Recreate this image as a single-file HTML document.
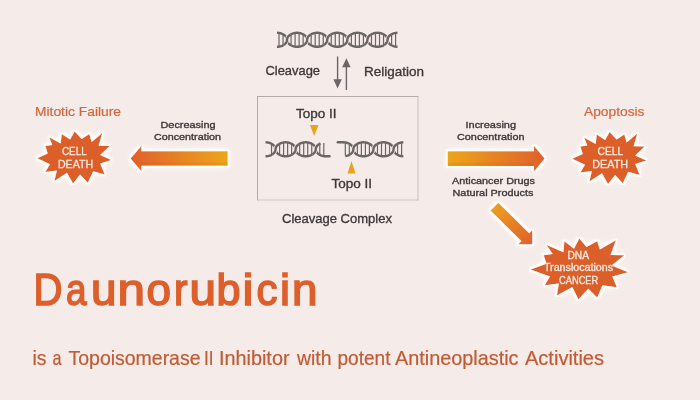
<!DOCTYPE html>
<html><head><meta charset="utf-8"><style>
html,body{margin:0;padding:0;background:#f5ebe9;}
svg{display:block;font-family:"Liberation Sans",sans-serif;will-change:transform;}
</style></head><body>
<svg width="700" height="400" viewBox="0 0 700 400">

<defs>
<linearGradient id="gL" x1="0" x2="1" y1="0" y2="0"><stop offset="0" stop-color="#e0602c"/><stop offset="1" stop-color="#eda51c"/></linearGradient>
<linearGradient id="gR" x1="0" x2="1" y1="0" y2="0"><stop offset="0" stop-color="#eda51c"/><stop offset="1" stop-color="#e0602c"/></linearGradient>
<linearGradient id="gD" x1="0" x2="1" y1="0" y2="1"><stop offset="0" stop-color="#eda51c"/><stop offset="1" stop-color="#e0602c"/></linearGradient>
<filter id="glow" x="-30%" y="-30%" width="160%" height="160%">
<feMorphology in="SourceAlpha" operator="dilate" radius="2.2" result="d"/>
<feGaussianBlur in="d" stdDeviation="0.7" result="b"/>
<feGaussianBlur in="SourceAlpha" stdDeviation="3.5" result="b2"/>
<feComponentTransfer in="b2" result="b3"><feFuncA type="linear" slope="1.6"/></feComponentTransfer>
<feFlood flood-color="#fffcf6"/>
<feComposite in2="b" operator="in" result="w"/>
<feFlood flood-color="#ffffff"/>
<feComposite in2="b3" operator="in" result="w2"/>
<feMerge><feMergeNode in="w2"/><feMergeNode in="w"/><feMergeNode in="SourceGraphic"/></feMerge>
</filter>
</defs>
<rect width="700" height="400" fill="#f5ebe9"/>
<path d="M277.00,32.80 L277.50,32.81 L278.00,32.84 L278.50,32.89 L279.00,32.95 L279.50,33.04 L280.00,33.15 L280.50,33.28 L281.00,33.43 L281.50,33.60 L282.00,33.80 L282.50,34.02 L283.00,34.27 L283.50,34.55 L284.00,34.87 L284.50,35.23 L285.00,35.64 L285.50,36.12 L286.00,36.70 L286.50,37.48 L287.00,39.01 L287.50,41.92 L288.00,42.76 L288.50,43.38 L289.00,43.87 L289.50,44.29 L290.00,44.66 L290.50,44.99 L291.00,45.27 L291.50,45.53 L292.00,45.76 L292.50,45.96 L293.00,46.14 L293.50,46.29 L294.00,46.43 L294.50,46.54 L295.00,46.63 L295.50,46.70 L296.00,46.75 L296.50,46.79 L297.00,46.80 L297.50,46.79 L298.00,46.77 L298.50,46.72 L299.00,46.66 L299.50,46.58 L300.00,46.47 L300.50,46.35 L301.00,46.20 L301.50,46.03 L302.00,45.84 L302.50,45.62 L303.00,45.38 L303.50,45.11 L304.00,44.80 L304.50,44.45 L305.00,44.05 L305.50,43.59 L306.00,43.03 L306.50,42.30 L307.00,41.09 L307.50,37.91 L308.00,36.98 L308.50,36.34 L309.00,35.82 L309.50,35.38 L310.00,35.01 L310.50,34.68 L311.00,34.38 L311.50,34.12 L312.00,33.89 L312.50,33.68 L313.00,33.50 L313.50,33.34 L314.00,33.20 L314.50,33.08 L315.00,32.99 L315.50,32.91 L316.00,32.86 L316.50,32.82 L317.00,32.80 L317.50,32.80 L318.00,32.82 L318.50,32.87 L319.00,32.93 L319.50,33.01 L320.00,33.10 L320.50,33.23 L321.00,33.37 L321.50,33.53 L322.00,33.72 L322.50,33.93 L323.00,34.17 L323.50,34.44 L324.00,34.74 L324.50,35.08 L325.00,35.47 L325.50,35.92 L326.00,36.45 L326.50,37.13 L327.00,38.17 L327.50,41.43 L328.00,42.47 L328.50,43.15 L329.00,43.68 L329.50,44.13 L330.00,44.52 L330.50,44.86 L331.00,45.16 L331.50,45.43 L332.00,45.67 L332.50,45.88 L333.00,46.07 L333.50,46.23 L334.00,46.37 L334.50,46.50 L335.00,46.59 L335.50,46.67 L336.00,46.73 L336.50,46.78 L337.00,46.80 L337.50,46.80 L338.00,46.78 L338.50,46.74 L339.00,46.69 L339.50,46.61 L340.00,46.52 L340.50,46.40 L341.00,46.26 L341.50,46.10 L342.00,45.92 L342.50,45.71 L343.00,45.48 L343.50,45.22 L344.00,44.92 L344.50,44.59 L345.00,44.22 L345.50,43.78 L346.00,43.26 L346.50,42.62 L347.00,41.69 L347.50,38.51 L348.00,37.30 L348.50,36.57 L349.00,36.01 L349.50,35.55 L350.00,35.15 L350.50,34.80 L351.00,34.49 L351.50,34.22 L352.00,33.98 L352.50,33.76 L353.00,33.57 L353.50,33.40 L354.00,33.25 L354.50,33.13 L355.00,33.02 L355.50,32.94 L356.00,32.88 L356.50,32.83 L357.00,32.81 L357.50,32.80 L358.00,32.81 L358.50,32.85 L359.00,32.90 L359.50,32.97 L360.00,33.06 L360.50,33.17 L361.00,33.31 L361.50,33.46 L362.00,33.64 L362.50,33.84 L363.00,34.07 L363.50,34.33 L364.00,34.61 L364.50,34.94 L365.00,35.31 L365.50,35.73 L366.00,36.22 L366.50,36.84 L367.00,37.68 L367.50,40.59 L368.00,42.12 L368.50,42.90 L369.00,43.48 L369.50,43.96 L370.00,44.37 L370.50,44.73 L371.00,45.05 L371.50,45.33 L372.00,45.58 L372.50,45.80 L373.00,46.00 L373.50,46.17 L374.00,46.32 L374.50,46.45 L375.00,46.56 L375.50,46.65 L376.00,46.71 L376.50,46.76 L377.00,46.79 L377.50,46.80 L378.00,46.79 L378.50,46.76 L379.00,46.71 L379.50,46.65 L380.00,46.56 L380.50,46.45 L381.00,46.32 L381.50,46.17 L382.00,46.00 L382.50,45.80 L383.00,45.58 L383.50,45.33 L384.00,45.05 L384.50,44.73 L385.00,44.37 L385.50,43.96 L386.00,43.48 L386.50,42.90 L387.00,42.12 L387.50,40.59 L388.00,37.68 L388.50,36.84 L389.00,36.22 L389.50,35.73 L390.00,35.31 L390.50,34.94 L391.00,34.61 L391.50,34.33 L392.00,34.07 L392.50,33.84 L393.00,33.64 L393.50,33.46 L394.00,33.31 L394.50,33.17 L395.00,33.06 L395.50,32.97 L396.00,32.90 L396.50,32.85 L397.00,32.81 L397.50,32.80" fill="none" stroke="#6a6665" stroke-width="2.4"/>
<path d="M277.00,46.80 L277.50,46.79 L278.00,46.76 L278.50,46.71 L279.00,46.65 L279.50,46.56 L280.00,46.45 L280.50,46.32 L281.00,46.17 L281.50,46.00 L282.00,45.80 L282.50,45.58 L283.00,45.33 L283.50,45.05 L284.00,44.73 L284.50,44.37 L285.00,43.96 L285.50,43.48 L286.00,42.90 L286.50,42.12 L287.00,40.59 L287.50,37.68 L288.00,36.84 L288.50,36.22 L289.00,35.73 L289.50,35.31 L290.00,34.94 L290.50,34.61 L291.00,34.33 L291.50,34.07 L292.00,33.84 L292.50,33.64 L293.00,33.46 L293.50,33.31 L294.00,33.17 L294.50,33.06 L295.00,32.97 L295.50,32.90 L296.00,32.85 L296.50,32.81 L297.00,32.80 L297.50,32.81 L298.00,32.83 L298.50,32.88 L299.00,32.94 L299.50,33.02 L300.00,33.13 L300.50,33.25 L301.00,33.40 L301.50,33.57 L302.00,33.76 L302.50,33.98 L303.00,34.22 L303.50,34.49 L304.00,34.80 L304.50,35.15 L305.00,35.55 L305.50,36.01 L306.00,36.57 L306.50,37.30 L307.00,38.51 L307.50,41.69 L308.00,42.62 L308.50,43.26 L309.00,43.78 L309.50,44.22 L310.00,44.59 L310.50,44.92 L311.00,45.22 L311.50,45.48 L312.00,45.71 L312.50,45.92 L313.00,46.10 L313.50,46.26 L314.00,46.40 L314.50,46.52 L315.00,46.61 L315.50,46.69 L316.00,46.74 L316.50,46.78 L317.00,46.80 L317.50,46.80 L318.00,46.78 L318.50,46.73 L319.00,46.67 L319.50,46.59 L320.00,46.50 L320.50,46.37 L321.00,46.23 L321.50,46.07 L322.00,45.88 L322.50,45.67 L323.00,45.43 L323.50,45.16 L324.00,44.86 L324.50,44.52 L325.00,44.13 L325.50,43.68 L326.00,43.15 L326.50,42.47 L327.00,41.43 L327.50,38.17 L328.00,37.13 L328.50,36.45 L329.00,35.92 L329.50,35.47 L330.00,35.08 L330.50,34.74 L331.00,34.44 L331.50,34.17 L332.00,33.93 L332.50,33.72 L333.00,33.53 L333.50,33.37 L334.00,33.23 L334.50,33.10 L335.00,33.01 L335.50,32.93 L336.00,32.87 L336.50,32.82 L337.00,32.80 L337.50,32.80 L338.00,32.82 L338.50,32.86 L339.00,32.91 L339.50,32.99 L340.00,33.08 L340.50,33.20 L341.00,33.34 L341.50,33.50 L342.00,33.68 L342.50,33.89 L343.00,34.12 L343.50,34.38 L344.00,34.68 L344.50,35.01 L345.00,35.38 L345.50,35.82 L346.00,36.34 L346.50,36.98 L347.00,37.91 L347.50,41.09 L348.00,42.30 L348.50,43.03 L349.00,43.59 L349.50,44.05 L350.00,44.45 L350.50,44.80 L351.00,45.11 L351.50,45.38 L352.00,45.62 L352.50,45.84 L353.00,46.03 L353.50,46.20 L354.00,46.35 L354.50,46.47 L355.00,46.58 L355.50,46.66 L356.00,46.72 L356.50,46.77 L357.00,46.79 L357.50,46.80 L358.00,46.79 L358.50,46.75 L359.00,46.70 L359.50,46.63 L360.00,46.54 L360.50,46.43 L361.00,46.29 L361.50,46.14 L362.00,45.96 L362.50,45.76 L363.00,45.53 L363.50,45.27 L364.00,44.99 L364.50,44.66 L365.00,44.29 L365.50,43.87 L366.00,43.38 L366.50,42.76 L367.00,41.92 L367.50,39.01 L368.00,37.48 L368.50,36.70 L369.00,36.12 L369.50,35.64 L370.00,35.23 L370.50,34.87 L371.00,34.55 L371.50,34.27 L372.00,34.02 L372.50,33.80 L373.00,33.60 L373.50,33.43 L374.00,33.28 L374.50,33.15 L375.00,33.04 L375.50,32.95 L376.00,32.89 L376.50,32.84 L377.00,32.81 L377.50,32.80 L378.00,32.81 L378.50,32.84 L379.00,32.89 L379.50,32.95 L380.00,33.04 L380.50,33.15 L381.00,33.28 L381.50,33.43 L382.00,33.60 L382.50,33.80 L383.00,34.02 L383.50,34.27 L384.00,34.55 L384.50,34.87 L385.00,35.23 L385.50,35.64 L386.00,36.12 L386.50,36.70 L387.00,37.48 L387.50,39.01 L388.00,41.92 L388.50,42.76 L389.00,43.38 L389.50,43.87 L390.00,44.29 L390.50,44.66 L391.00,44.99 L391.50,45.27 L392.00,45.53 L392.50,45.76 L393.00,45.96 L393.50,46.14 L394.00,46.29 L394.50,46.43 L395.00,46.54 L395.50,46.63 L396.00,46.70 L396.50,46.75 L397.00,46.79 L397.50,46.80" fill="none" stroke="#6a6665" stroke-width="2.4"/>
<path d="M283.55,45.02 L283.80,44.86 L284.05,44.70 L284.30,44.52 L284.55,44.33 L284.80,44.13 L285.05,43.92 L285.30,43.68 L285.55,43.43 L285.80,43.15 L286.05,42.83 L286.30,42.47 L286.55,42.02 L286.80,41.43 L287.05,39.80 L287.30,38.17 L287.55,37.58 L287.80,37.13 L288.05,36.77 L288.30,36.45 L288.55,36.17 L288.80,35.92 L289.05,35.68 L289.30,35.47 L289.55,35.27 L289.80,35.08 L290.05,34.90 L290.30,34.74 L290.55,34.58" fill="none" stroke="#f5ebe9" stroke-width="3.8"/>
<path d="M283.55,45.02 L283.80,44.86 L284.05,44.70 L284.30,44.52 L284.55,44.33 L284.80,44.13 L285.05,43.92 L285.30,43.68 L285.55,43.43 L285.80,43.15 L286.05,42.83 L286.30,42.47 L286.55,42.02 L286.80,41.43 L287.05,39.80 L287.30,38.17 L287.55,37.58 L287.80,37.13 L288.05,36.77 L288.30,36.45 L288.55,36.17 L288.80,35.92 L289.05,35.68 L289.30,35.47 L289.55,35.27 L289.80,35.08 L290.05,34.90 L290.30,34.74 L290.55,34.58" fill="none" stroke="#6a6665" stroke-width="2.4"/>
<path d="M303.65,45.02 L303.90,44.86 L304.15,44.70 L304.40,44.52 L304.65,44.33 L304.90,44.13 L305.15,43.92 L305.40,43.68 L305.65,43.43 L305.90,43.15 L306.15,42.83 L306.40,42.47 L306.65,42.02 L306.90,41.43 L307.15,39.80 L307.40,38.17 L307.65,37.58 L307.90,37.13 L308.15,36.77 L308.40,36.45 L308.65,36.17 L308.90,35.92 L309.15,35.68 L309.40,35.47 L309.65,35.27 L309.90,35.08 L310.15,34.90 L310.40,34.74 L310.65,34.58" fill="none" stroke="#f5ebe9" stroke-width="3.8"/>
<path d="M303.65,45.02 L303.90,44.86 L304.15,44.70 L304.40,44.52 L304.65,44.33 L304.90,44.13 L305.15,43.92 L305.40,43.68 L305.65,43.43 L305.90,43.15 L306.15,42.83 L306.40,42.47 L306.65,42.02 L306.90,41.43 L307.15,39.80 L307.40,38.17 L307.65,37.58 L307.90,37.13 L308.15,36.77 L308.40,36.45 L308.65,36.17 L308.90,35.92 L309.15,35.68 L309.40,35.47 L309.65,35.27 L309.90,35.08 L310.15,34.90 L310.40,34.74 L310.65,34.58" fill="none" stroke="#6a6665" stroke-width="2.4"/>
<path d="M323.75,45.02 L324.00,44.86 L324.25,44.70 L324.50,44.52 L324.75,44.33 L325.00,44.13 L325.25,43.92 L325.50,43.68 L325.75,43.43 L326.00,43.15 L326.25,42.83 L326.50,42.47 L326.75,42.02 L327.00,41.43 L327.25,39.80 L327.50,38.17 L327.75,37.58 L328.00,37.13 L328.25,36.77 L328.50,36.45 L328.75,36.17 L329.00,35.92 L329.25,35.68 L329.50,35.47 L329.75,35.27 L330.00,35.08 L330.25,34.90 L330.50,34.74 L330.75,34.58" fill="none" stroke="#f5ebe9" stroke-width="3.8"/>
<path d="M323.75,45.02 L324.00,44.86 L324.25,44.70 L324.50,44.52 L324.75,44.33 L325.00,44.13 L325.25,43.92 L325.50,43.68 L325.75,43.43 L326.00,43.15 L326.25,42.83 L326.50,42.47 L326.75,42.02 L327.00,41.43 L327.25,39.80 L327.50,38.17 L327.75,37.58 L328.00,37.13 L328.25,36.77 L328.50,36.45 L328.75,36.17 L329.00,35.92 L329.25,35.68 L329.50,35.47 L329.75,35.27 L330.00,35.08 L330.25,34.90 L330.50,34.74 L330.75,34.58" fill="none" stroke="#6a6665" stroke-width="2.4"/>
<path d="M343.85,45.02 L344.10,44.86 L344.35,44.70 L344.60,44.52 L344.85,44.33 L345.10,44.13 L345.35,43.92 L345.60,43.68 L345.85,43.43 L346.10,43.15 L346.35,42.83 L346.60,42.47 L346.85,42.02 L347.10,41.43 L347.35,39.80 L347.60,38.17 L347.85,37.58 L348.10,37.13 L348.35,36.77 L348.60,36.45 L348.85,36.17 L349.10,35.92 L349.35,35.68 L349.60,35.47 L349.85,35.27 L350.10,35.08 L350.35,34.90 L350.60,34.74 L350.85,34.58" fill="none" stroke="#f5ebe9" stroke-width="3.8"/>
<path d="M343.85,45.02 L344.10,44.86 L344.35,44.70 L344.60,44.52 L344.85,44.33 L345.10,44.13 L345.35,43.92 L345.60,43.68 L345.85,43.43 L346.10,43.15 L346.35,42.83 L346.60,42.47 L346.85,42.02 L347.10,41.43 L347.35,39.80 L347.60,38.17 L347.85,37.58 L348.10,37.13 L348.35,36.77 L348.60,36.45 L348.85,36.17 L349.10,35.92 L349.35,35.68 L349.60,35.47 L349.85,35.27 L350.10,35.08 L350.35,34.90 L350.60,34.74 L350.85,34.58" fill="none" stroke="#6a6665" stroke-width="2.4"/>
<path d="M363.95,45.02 L364.20,44.86 L364.45,44.70 L364.70,44.52 L364.95,44.33 L365.20,44.13 L365.45,43.92 L365.70,43.68 L365.95,43.43 L366.20,43.15 L366.45,42.83 L366.70,42.47 L366.95,42.02 L367.20,41.43 L367.45,39.80 L367.70,38.17 L367.95,37.58 L368.20,37.13 L368.45,36.77 L368.70,36.45 L368.95,36.17 L369.20,35.92 L369.45,35.68 L369.70,35.47 L369.95,35.27 L370.20,35.08 L370.45,34.90 L370.70,34.74 L370.95,34.58" fill="none" stroke="#f5ebe9" stroke-width="3.8"/>
<path d="M363.95,45.02 L364.20,44.86 L364.45,44.70 L364.70,44.52 L364.95,44.33 L365.20,44.13 L365.45,43.92 L365.70,43.68 L365.95,43.43 L366.20,43.15 L366.45,42.83 L366.70,42.47 L366.95,42.02 L367.20,41.43 L367.45,39.80 L367.70,38.17 L367.95,37.58 L368.20,37.13 L368.45,36.77 L368.70,36.45 L368.95,36.17 L369.20,35.92 L369.45,35.68 L369.70,35.47 L369.95,35.27 L370.20,35.08 L370.45,34.90 L370.70,34.74 L370.95,34.58" fill="none" stroke="#6a6665" stroke-width="2.4"/>
<path d="M384.05,45.02 L384.30,44.86 L384.55,44.70 L384.80,44.52 L385.05,44.33 L385.30,44.13 L385.55,43.92 L385.80,43.68 L386.05,43.43 L386.30,43.15 L386.55,42.83 L386.80,42.47 L387.05,42.02 L387.30,41.43 L387.55,39.80 L387.80,38.17 L388.05,37.58 L388.30,37.13 L388.55,36.77 L388.80,36.45 L389.05,36.17 L389.30,35.92 L389.55,35.68 L389.80,35.47 L390.05,35.27 L390.30,35.08 L390.55,34.90 L390.80,34.74 L391.05,34.58" fill="none" stroke="#f5ebe9" stroke-width="3.8"/>
<path d="M384.05,45.02 L384.30,44.86 L384.55,44.70 L384.80,44.52 L385.05,44.33 L385.30,44.13 L385.55,43.92 L385.80,43.68 L386.05,43.43 L386.30,43.15 L386.55,42.83 L386.80,42.47 L387.05,42.02 L387.30,41.43 L387.55,39.80 L387.80,38.17 L388.05,37.58 L388.30,37.13 L388.55,36.77 L388.80,36.45 L389.05,36.17 L389.30,35.92 L389.55,35.68 L389.80,35.47 L390.05,35.27 L390.30,35.08 L390.55,34.90 L390.80,34.74 L391.05,34.58" fill="none" stroke="#6a6665" stroke-width="2.4"/>
<line x1="279.01" y1="33.56" x2="279.01" y2="46.04" stroke="#6a6665" stroke-width="1.2"/>
<line x1="283.03" y1="34.89" x2="283.03" y2="44.71" stroke="#6a6665" stroke-width="1.2"/>
<line x1="291.07" y1="34.89" x2="291.07" y2="44.71" stroke="#6a6665" stroke-width="1.2"/>
<line x1="295.09" y1="33.56" x2="295.09" y2="46.04" stroke="#6a6665" stroke-width="1.2"/>
<line x1="299.11" y1="33.56" x2="299.11" y2="46.04" stroke="#6a6665" stroke-width="1.2"/>
<line x1="303.13" y1="34.89" x2="303.13" y2="44.71" stroke="#6a6665" stroke-width="1.2"/>
<line x1="311.17" y1="34.89" x2="311.17" y2="44.71" stroke="#6a6665" stroke-width="1.2"/>
<line x1="315.19" y1="33.56" x2="315.19" y2="46.04" stroke="#6a6665" stroke-width="1.2"/>
<line x1="319.21" y1="33.56" x2="319.21" y2="46.04" stroke="#6a6665" stroke-width="1.2"/>
<line x1="323.23" y1="34.89" x2="323.23" y2="44.71" stroke="#6a6665" stroke-width="1.2"/>
<line x1="331.27" y1="34.89" x2="331.27" y2="44.71" stroke="#6a6665" stroke-width="1.2"/>
<line x1="335.29" y1="33.56" x2="335.29" y2="46.04" stroke="#6a6665" stroke-width="1.2"/>
<line x1="339.31" y1="33.56" x2="339.31" y2="46.04" stroke="#6a6665" stroke-width="1.2"/>
<line x1="343.33" y1="34.89" x2="343.33" y2="44.71" stroke="#6a6665" stroke-width="1.2"/>
<line x1="351.37" y1="34.89" x2="351.37" y2="44.71" stroke="#6a6665" stroke-width="1.2"/>
<line x1="355.39" y1="33.56" x2="355.39" y2="46.04" stroke="#6a6665" stroke-width="1.2"/>
<line x1="359.41" y1="33.56" x2="359.41" y2="46.04" stroke="#6a6665" stroke-width="1.2"/>
<line x1="363.43" y1="34.89" x2="363.43" y2="44.71" stroke="#6a6665" stroke-width="1.2"/>
<line x1="371.47" y1="34.89" x2="371.47" y2="44.71" stroke="#6a6665" stroke-width="1.2"/>
<line x1="375.49" y1="33.56" x2="375.49" y2="46.04" stroke="#6a6665" stroke-width="1.2"/>
<line x1="379.51" y1="33.56" x2="379.51" y2="46.04" stroke="#6a6665" stroke-width="1.2"/>
<line x1="383.53" y1="34.89" x2="383.53" y2="44.71" stroke="#6a6665" stroke-width="1.2"/>
<line x1="391.57" y1="34.89" x2="391.57" y2="44.71" stroke="#6a6665" stroke-width="1.2"/>
<line x1="395.59" y1="33.56" x2="395.59" y2="46.04" stroke="#6a6665" stroke-width="1.2"/>
<line x1="337.6" y1="56.5" x2="337.6" y2="80" stroke="#6a6665" stroke-width="1.4"/>
<polygon points="333.4,79.3 341.8,79.3 337.6,88.4" fill="#6a6665"/>
<line x1="346.4" y1="66" x2="346.4" y2="90" stroke="#6a6665" stroke-width="1.4"/>
<polygon points="342.2,67.2 350.6,67.2 346.4,58.2" fill="#6a6665"/>
<line x1="257" y1="96.5" x2="418.5" y2="96.5" stroke="#b4aaa9" stroke-width="1"/>
<line x1="257.5" y1="96" x2="257.5" y2="200.5" stroke="#b4aaa9" stroke-width="1"/>
<line x1="418" y1="97" x2="418" y2="200.5" stroke="#d0c6c4" stroke-width="1.2"/>
<line x1="258" y1="200" x2="418.5" y2="200" stroke="#d0c6c4" stroke-width="1.2"/>
<path d="M265.50,142.30 L266.00,142.31 L266.50,142.34 L267.00,142.39 L267.50,142.45 L268.00,142.54 L268.50,142.65 L269.00,142.78 L269.50,142.93 L270.00,143.10 L270.50,143.30 L271.00,143.52 L271.50,143.77 L272.00,144.05 L272.50,144.37 L273.00,144.73 L273.50,145.14 L274.00,145.62 L274.50,146.20 L275.00,146.98 L275.50,148.51 L276.00,151.42 L276.50,152.26 L277.00,152.88 L277.50,153.37 L278.00,153.79 L278.50,154.16 L279.00,154.49 L279.50,154.77 L280.00,155.03 L280.50,155.26 L281.00,155.46 L281.50,155.64 L282.00,155.79 L282.50,155.93 L283.00,156.04 L283.50,156.13 L284.00,156.20 L284.50,156.25 L285.00,156.29 L285.50,156.30 L286.00,156.29 L286.50,156.27 L287.00,156.22 L287.50,156.16 L288.00,156.08 L288.50,155.97 L289.00,155.85 L289.50,155.70 L290.00,155.53 L290.50,155.34 L291.00,155.12 L291.50,154.88 L292.00,154.61 L292.50,154.30 L293.00,153.95 L293.50,153.55 L294.00,153.09 L294.50,152.53 L295.00,151.80 L295.50,150.59 L296.00,147.41 L296.50,146.48 L297.00,145.84 L297.50,145.32 L298.00,144.88 L298.50,144.51 L299.00,144.18 L299.50,143.88 L300.00,143.62 L300.50,143.39 L301.00,143.18 L301.50,143.00 L302.00,142.84 L302.50,142.70 L303.00,142.58 L303.50,142.49 L304.00,142.41 L304.50,142.36 L305.00,142.32 L305.50,142.30 L306.00,142.30 L306.50,142.32 L307.00,142.37 L307.50,142.43 L308.00,142.51 L308.50,142.60 L309.00,142.73 L309.50,142.87 L310.00,143.03 L310.50,143.22 L311.00,143.43 L311.50,143.67 L312.00,143.94 L312.50,144.24 L313.00,144.58 L313.50,144.97 L314.00,145.42 L314.50,145.95 L315.00,146.63 L315.50,147.67 L316.00,150.93 L316.50,151.97 L317.00,152.65 L317.50,153.18 L318.00,153.63 L318.50,154.02 L319.00,154.36 L319.50,154.66 L320.00,154.93 L320.50,155.17 L321.00,155.38 L321.50,155.57 L322.00,155.73 L322.50,155.87 L323.00,156.00 L323.50,156.09 L324.00,156.17 L324.50,156.23 L325.00,156.28 L325.50,156.30" fill="none" stroke="#6a6665" stroke-width="2.4"/>
<path d="M265.50,156.30 L266.00,156.29 L266.50,156.26 L267.00,156.21 L267.50,156.15 L268.00,156.06 L268.50,155.95 L269.00,155.82 L269.50,155.67 L270.00,155.50 L270.50,155.30 L271.00,155.08 L271.50,154.83 L272.00,154.55 L272.50,154.23 L273.00,153.87 L273.50,153.46 L274.00,152.98 L274.50,152.40 L275.00,151.62 L275.50,150.09 L276.00,147.18 L276.50,146.34 L277.00,145.72 L277.50,145.23 L278.00,144.81 L278.50,144.44 L279.00,144.11 L279.50,143.83 L280.00,143.57 L280.50,143.34 L281.00,143.14 L281.50,142.96 L282.00,142.81 L282.50,142.67 L283.00,142.56 L283.50,142.47 L284.00,142.40 L284.50,142.35 L285.00,142.31 L285.50,142.30 L286.00,142.31 L286.50,142.33 L287.00,142.38 L287.50,142.44 L288.00,142.52 L288.50,142.63 L289.00,142.75 L289.50,142.90 L290.00,143.07 L290.50,143.26 L291.00,143.48 L291.50,143.72 L292.00,143.99 L292.50,144.30 L293.00,144.65 L293.50,145.05 L294.00,145.51 L294.50,146.07 L295.00,146.80 L295.50,148.01 L296.00,151.19 L296.50,152.12 L297.00,152.76 L297.50,153.28 L298.00,153.72 L298.50,154.09 L299.00,154.42 L299.50,154.72 L300.00,154.98 L300.50,155.21 L301.00,155.42 L301.50,155.60 L302.00,155.76 L302.50,155.90 L303.00,156.02 L303.50,156.11 L304.00,156.19 L304.50,156.24 L305.00,156.28 L305.50,156.30 L306.00,156.30 L306.50,156.28 L307.00,156.23 L307.50,156.17 L308.00,156.09 L308.50,156.00 L309.00,155.87 L309.50,155.73 L310.00,155.57 L310.50,155.38 L311.00,155.17 L311.50,154.93 L312.00,154.66 L312.50,154.36 L313.00,154.02 L313.50,153.63 L314.00,153.18 L314.50,152.65 L315.00,151.97 L315.50,150.93 L316.00,147.67 L316.50,146.63 L317.00,145.95 L317.50,145.42 L318.00,144.97 L318.50,144.58 L319.00,144.24 L319.50,143.94 L320.00,143.67 L320.50,143.43" fill="none" stroke="#6a6665" stroke-width="2.4"/>
<path d="M272.05,154.52 L272.30,154.36 L272.55,154.20 L272.80,154.02 L273.05,153.83 L273.30,153.63 L273.55,153.42 L273.80,153.18 L274.05,152.93 L274.30,152.65 L274.55,152.33 L274.80,151.97 L275.05,151.52 L275.30,150.93 L275.55,149.30 L275.80,147.67 L276.05,147.08 L276.30,146.63 L276.55,146.27 L276.80,145.95 L277.05,145.67 L277.30,145.42 L277.55,145.18 L277.80,144.97 L278.05,144.77 L278.30,144.58 L278.55,144.40 L278.80,144.24 L279.05,144.08" fill="none" stroke="#f5ebe9" stroke-width="3.8"/>
<path d="M272.05,154.52 L272.30,154.36 L272.55,154.20 L272.80,154.02 L273.05,153.83 L273.30,153.63 L273.55,153.42 L273.80,153.18 L274.05,152.93 L274.30,152.65 L274.55,152.33 L274.80,151.97 L275.05,151.52 L275.30,150.93 L275.55,149.30 L275.80,147.67 L276.05,147.08 L276.30,146.63 L276.55,146.27 L276.80,145.95 L277.05,145.67 L277.30,145.42 L277.55,145.18 L277.80,144.97 L278.05,144.77 L278.30,144.58 L278.55,144.40 L278.80,144.24 L279.05,144.08" fill="none" stroke="#6a6665" stroke-width="2.4"/>
<path d="M292.15,154.52 L292.40,154.36 L292.65,154.20 L292.90,154.02 L293.15,153.83 L293.40,153.63 L293.65,153.42 L293.90,153.18 L294.15,152.93 L294.40,152.65 L294.65,152.33 L294.90,151.97 L295.15,151.52 L295.40,150.93 L295.65,149.30 L295.90,147.67 L296.15,147.08 L296.40,146.63 L296.65,146.27 L296.90,145.95 L297.15,145.67 L297.40,145.42 L297.65,145.18 L297.90,144.97 L298.15,144.77 L298.40,144.58 L298.65,144.40 L298.90,144.24 L299.15,144.08" fill="none" stroke="#f5ebe9" stroke-width="3.8"/>
<path d="M292.15,154.52 L292.40,154.36 L292.65,154.20 L292.90,154.02 L293.15,153.83 L293.40,153.63 L293.65,153.42 L293.90,153.18 L294.15,152.93 L294.40,152.65 L294.65,152.33 L294.90,151.97 L295.15,151.52 L295.40,150.93 L295.65,149.30 L295.90,147.67 L296.15,147.08 L296.40,146.63 L296.65,146.27 L296.90,145.95 L297.15,145.67 L297.40,145.42 L297.65,145.18 L297.90,144.97 L298.15,144.77 L298.40,144.58 L298.65,144.40 L298.90,144.24 L299.15,144.08" fill="none" stroke="#6a6665" stroke-width="2.4"/>
<path d="M312.25,154.52 L312.50,154.36 L312.75,154.20 L313.00,154.02 L313.25,153.83 L313.50,153.63 L313.75,153.42 L314.00,153.18 L314.25,152.93 L314.50,152.65 L314.75,152.33 L315.00,151.97 L315.25,151.52 L315.50,150.93 L315.75,149.30 L316.00,147.67 L316.25,147.08 L316.50,146.63 L316.75,146.27 L317.00,145.95 L317.25,145.67 L317.50,145.42 L317.75,145.18 L318.00,144.97 L318.25,144.77 L318.50,144.58 L318.75,144.40 L319.00,144.24 L319.25,144.08" fill="none" stroke="#f5ebe9" stroke-width="3.8"/>
<path d="M312.25,154.52 L312.50,154.36 L312.75,154.20 L313.00,154.02 L313.25,153.83 L313.50,153.63 L313.75,153.42 L314.00,153.18 L314.25,152.93 L314.50,152.65 L314.75,152.33 L315.00,151.97 L315.25,151.52 L315.50,150.93 L315.75,149.30 L316.00,147.67 L316.25,147.08 L316.50,146.63 L316.75,146.27 L317.00,145.95 L317.25,145.67 L317.50,145.42 L317.75,145.18 L318.00,144.97 L318.25,144.77 L318.50,144.58 L318.75,144.40 L319.00,144.24 L319.25,144.08" fill="none" stroke="#6a6665" stroke-width="2.4"/>
<line x1="325.8" y1="156.3" x2="329.5" y2="156.3" stroke="#6a6665" stroke-width="2.4" stroke-linecap="round"/>
<line x1="271.53" y1="144.39" x2="271.53" y2="154.21" stroke="#6a6665" stroke-width="1.2"/>
<line x1="279.57" y1="144.39" x2="279.57" y2="154.21" stroke="#6a6665" stroke-width="1.2"/>
<line x1="283.59" y1="143.06" x2="283.59" y2="155.54" stroke="#6a6665" stroke-width="1.2"/>
<line x1="287.61" y1="143.06" x2="287.61" y2="155.54" stroke="#6a6665" stroke-width="1.2"/>
<line x1="291.63" y1="144.39" x2="291.63" y2="154.21" stroke="#6a6665" stroke-width="1.2"/>
<line x1="299.67" y1="144.39" x2="299.67" y2="154.21" stroke="#6a6665" stroke-width="1.2"/>
<line x1="303.69" y1="143.06" x2="303.69" y2="155.54" stroke="#6a6665" stroke-width="1.2"/>
<line x1="307.71" y1="143.06" x2="307.71" y2="155.54" stroke="#6a6665" stroke-width="1.2"/>
<line x1="311.73" y1="144.39" x2="311.73" y2="154.21" stroke="#6a6665" stroke-width="1.2"/>
<line x1="319.77" y1="144.39" x2="319.77" y2="154.21" stroke="#6a6665" stroke-width="1.2"/>
<line x1="323.79" y1="143.06" x2="323.79" y2="155.54" stroke="#6a6665" stroke-width="1.2"/>
<path d="M343.30,142.30 L343.80,142.31 L344.30,142.34 L344.80,142.39 L345.30,142.45 L345.80,142.54 L346.30,142.65 L346.80,142.78 L347.30,142.93 L347.80,143.10 L348.30,143.30 L348.80,143.52 L349.30,143.77 L349.80,144.05 L350.30,144.37 L350.80,144.73 L351.30,145.14 L351.80,145.62 L352.30,146.20 L352.80,146.98 L353.30,148.51 L353.80,151.42 L354.30,152.26 L354.80,152.88 L355.30,153.37 L355.80,153.79 L356.30,154.16 L356.80,154.49 L357.30,154.77 L357.80,155.03 L358.30,155.26 L358.80,155.46 L359.30,155.64 L359.80,155.79 L360.30,155.93 L360.80,156.04 L361.30,156.13 L361.80,156.20 L362.30,156.25 L362.80,156.29 L363.30,156.30 L363.80,156.29 L364.30,156.27 L364.80,156.22 L365.30,156.16 L365.80,156.08 L366.30,155.97 L366.80,155.85 L367.30,155.70 L367.80,155.53 L368.30,155.34 L368.80,155.12 L369.30,154.88 L369.80,154.61 L370.30,154.30 L370.80,153.95 L371.30,153.55 L371.80,153.09 L372.30,152.53 L372.80,151.80 L373.30,150.59 L373.80,147.41 L374.30,146.48 L374.80,145.84 L375.30,145.32 L375.80,144.88 L376.30,144.51 L376.80,144.18 L377.30,143.88 L377.80,143.62 L378.30,143.39 L378.80,143.18 L379.30,143.00 L379.80,142.84 L380.30,142.70 L380.80,142.58 L381.30,142.49 L381.80,142.41 L382.30,142.36 L382.80,142.32 L383.30,142.30 L383.80,142.30 L384.30,142.32 L384.80,142.37 L385.30,142.43 L385.80,142.51 L386.30,142.60 L386.80,142.73 L387.30,142.87 L387.80,143.03 L388.30,143.22 L388.80,143.43 L389.30,143.67 L389.80,143.94 L390.30,144.24 L390.80,144.58 L391.30,144.97 L391.80,145.42 L392.30,145.95 L392.80,146.63 L393.30,147.67 L393.80,150.93 L394.30,151.97 L394.80,152.65 L395.30,153.18 L395.80,153.63 L396.30,154.02 L396.80,154.36 L397.30,154.66 L397.80,154.93 L398.30,155.17 L398.80,155.38 L399.30,155.57 L399.80,155.73 L400.30,155.87 L400.80,156.00 L401.30,156.09 L401.80,156.17 L402.30,156.23 L402.80,156.28 L403.30,156.30" fill="none" stroke="#6a6665" stroke-width="2.4"/>
<path d="M345.30,156.15 L345.80,156.06 L346.30,155.95 L346.80,155.82 L347.30,155.67 L347.80,155.50 L348.30,155.30 L348.80,155.08 L349.30,154.83 L349.80,154.55 L350.30,154.23 L350.80,153.87 L351.30,153.46 L351.80,152.98 L352.30,152.40 L352.80,151.62 L353.30,150.09 L353.80,147.18 L354.30,146.34 L354.80,145.72 L355.30,145.23 L355.80,144.81 L356.30,144.44 L356.80,144.11 L357.30,143.83 L357.80,143.57 L358.30,143.34 L358.80,143.14 L359.30,142.96 L359.80,142.81 L360.30,142.67 L360.80,142.56 L361.30,142.47 L361.80,142.40 L362.30,142.35 L362.80,142.31 L363.30,142.30 L363.80,142.31 L364.30,142.33 L364.80,142.38 L365.30,142.44 L365.80,142.52 L366.30,142.63 L366.80,142.75 L367.30,142.90 L367.80,143.07 L368.30,143.26 L368.80,143.48 L369.30,143.72 L369.80,143.99 L370.30,144.30 L370.80,144.65 L371.30,145.05 L371.80,145.51 L372.30,146.07 L372.80,146.80 L373.30,148.01 L373.80,151.19 L374.30,152.12 L374.80,152.76 L375.30,153.28 L375.80,153.72 L376.30,154.09 L376.80,154.42 L377.30,154.72 L377.80,154.98 L378.30,155.21 L378.80,155.42 L379.30,155.60 L379.80,155.76 L380.30,155.90 L380.80,156.02 L381.30,156.11 L381.80,156.19 L382.30,156.24 L382.80,156.28 L383.30,156.30 L383.80,156.30 L384.30,156.28 L384.80,156.23 L385.30,156.17 L385.80,156.09 L386.30,156.00 L386.80,155.87 L387.30,155.73 L387.80,155.57 L388.30,155.38 L388.80,155.17 L389.30,154.93 L389.80,154.66 L390.30,154.36 L390.80,154.02 L391.30,153.63 L391.80,153.18 L392.30,152.65 L392.80,151.97 L393.30,150.93 L393.80,147.67 L394.30,146.63 L394.80,145.95 L395.30,145.42 L395.80,144.97 L396.30,144.58 L396.80,144.24 L397.30,143.94 L397.80,143.67 L398.30,143.43 L398.80,143.22 L399.30,143.03 L399.80,142.87 L400.30,142.73 L400.80,142.60 L401.30,142.51 L401.80,142.43 L402.30,142.37 L402.80,142.32 L403.30,142.30" fill="none" stroke="#6a6665" stroke-width="2.4"/>
<path d="M349.85,154.52 L350.10,154.36 L350.35,154.20 L350.60,154.02 L350.85,153.83 L351.10,153.63 L351.35,153.42 L351.60,153.18 L351.85,152.93 L352.10,152.65 L352.35,152.33 L352.60,151.97 L352.85,151.52 L353.10,150.93 L353.35,149.30 L353.60,147.67 L353.85,147.08 L354.10,146.63 L354.35,146.27 L354.60,145.95 L354.85,145.67 L355.10,145.42 L355.35,145.18 L355.60,144.97 L355.85,144.77 L356.10,144.58 L356.35,144.40 L356.60,144.24 L356.85,144.08" fill="none" stroke="#f5ebe9" stroke-width="3.8"/>
<path d="M349.85,154.52 L350.10,154.36 L350.35,154.20 L350.60,154.02 L350.85,153.83 L351.10,153.63 L351.35,153.42 L351.60,153.18 L351.85,152.93 L352.10,152.65 L352.35,152.33 L352.60,151.97 L352.85,151.52 L353.10,150.93 L353.35,149.30 L353.60,147.67 L353.85,147.08 L354.10,146.63 L354.35,146.27 L354.60,145.95 L354.85,145.67 L355.10,145.42 L355.35,145.18 L355.60,144.97 L355.85,144.77 L356.10,144.58 L356.35,144.40 L356.60,144.24 L356.85,144.08" fill="none" stroke="#6a6665" stroke-width="2.4"/>
<path d="M369.95,154.52 L370.20,154.36 L370.45,154.20 L370.70,154.02 L370.95,153.83 L371.20,153.63 L371.45,153.42 L371.70,153.18 L371.95,152.93 L372.20,152.65 L372.45,152.33 L372.70,151.97 L372.95,151.52 L373.20,150.93 L373.45,149.30 L373.70,147.67 L373.95,147.08 L374.20,146.63 L374.45,146.27 L374.70,145.95 L374.95,145.67 L375.20,145.42 L375.45,145.18 L375.70,144.97 L375.95,144.77 L376.20,144.58 L376.45,144.40 L376.70,144.24 L376.95,144.08" fill="none" stroke="#f5ebe9" stroke-width="3.8"/>
<path d="M369.95,154.52 L370.20,154.36 L370.45,154.20 L370.70,154.02 L370.95,153.83 L371.20,153.63 L371.45,153.42 L371.70,153.18 L371.95,152.93 L372.20,152.65 L372.45,152.33 L372.70,151.97 L372.95,151.52 L373.20,150.93 L373.45,149.30 L373.70,147.67 L373.95,147.08 L374.20,146.63 L374.45,146.27 L374.70,145.95 L374.95,145.67 L375.20,145.42 L375.45,145.18 L375.70,144.97 L375.95,144.77 L376.20,144.58 L376.45,144.40 L376.70,144.24 L376.95,144.08" fill="none" stroke="#6a6665" stroke-width="2.4"/>
<path d="M390.05,154.52 L390.30,154.36 L390.55,154.20 L390.80,154.02 L391.05,153.83 L391.30,153.63 L391.55,153.42 L391.80,153.18 L392.05,152.93 L392.30,152.65 L392.55,152.33 L392.80,151.97 L393.05,151.52 L393.30,150.93 L393.55,149.30 L393.80,147.67 L394.05,147.08 L394.30,146.63 L394.55,146.27 L394.80,145.95 L395.05,145.67 L395.30,145.42 L395.55,145.18 L395.80,144.97 L396.05,144.77 L396.30,144.58 L396.55,144.40 L396.80,144.24 L397.05,144.08" fill="none" stroke="#f5ebe9" stroke-width="3.8"/>
<path d="M390.05,154.52 L390.30,154.36 L390.55,154.20 L390.80,154.02 L391.05,153.83 L391.30,153.63 L391.55,153.42 L391.80,153.18 L392.05,152.93 L392.30,152.65 L392.55,152.33 L392.80,151.97 L393.05,151.52 L393.30,150.93 L393.55,149.30 L393.80,147.67 L394.05,147.08 L394.30,146.63 L394.55,146.27 L394.80,145.95 L395.05,145.67 L395.30,145.42 L395.55,145.18 L395.80,144.97 L396.05,144.77 L396.30,144.58 L396.55,144.40 L396.80,144.24 L397.05,144.08" fill="none" stroke="#6a6665" stroke-width="2.4"/>
<line x1="337.8" y1="142.3" x2="343.3" y2="142.3" stroke="#6a6665" stroke-width="2.4" stroke-linecap="round"/>
<line x1="345.31" y1="143.06" x2="345.31" y2="155.54" stroke="#6a6665" stroke-width="1.2"/>
<line x1="349.33" y1="144.39" x2="349.33" y2="154.21" stroke="#6a6665" stroke-width="1.2"/>
<line x1="357.37" y1="144.39" x2="357.37" y2="154.21" stroke="#6a6665" stroke-width="1.2"/>
<line x1="361.39" y1="143.06" x2="361.39" y2="155.54" stroke="#6a6665" stroke-width="1.2"/>
<line x1="365.41" y1="143.06" x2="365.41" y2="155.54" stroke="#6a6665" stroke-width="1.2"/>
<line x1="369.43" y1="144.39" x2="369.43" y2="154.21" stroke="#6a6665" stroke-width="1.2"/>
<line x1="377.47" y1="144.39" x2="377.47" y2="154.21" stroke="#6a6665" stroke-width="1.2"/>
<line x1="381.49" y1="143.06" x2="381.49" y2="155.54" stroke="#6a6665" stroke-width="1.2"/>
<line x1="385.51" y1="143.06" x2="385.51" y2="155.54" stroke="#6a6665" stroke-width="1.2"/>
<line x1="389.53" y1="144.39" x2="389.53" y2="154.21" stroke="#6a6665" stroke-width="1.2"/>
<line x1="397.57" y1="144.39" x2="397.57" y2="154.21" stroke="#6a6665" stroke-width="1.2"/>
<line x1="401.59" y1="143.06" x2="401.59" y2="155.54" stroke="#6a6665" stroke-width="1.2"/>
<polygon points="310,125 318.5,125 314.2,136" fill="#e9a21e"/>
<polygon points="347.5,173.5 355.5,173.5 351.5,161" fill="#e9a21e"/>
<polygon filter="url(#glow)" fill="url(#gL)" points="130.6,158.6 141.4,146 141.4,151.3 227.7,151.3 227.7,165.7 141.4,165.7 141.4,171.2"/>
<polygon filter="url(#glow)" fill="url(#gR)" points="544.6,158.6 534,146 534,151.3 447.7,151.3 447.7,165.9 534,165.9 534,171.4"/>
<rect x="141.4" y="162.6" width="86.3" height="2.6" fill="#c04a10" opacity="0.12"/>
<rect x="447.7" y="162.8" width="86.3" height="2.6" fill="#c04a10" opacity="0.12"/>
<g filter="url(#glow)"><polygon fill="url(#gD)" points="498.3,202.8 529.19,233.31 532.3,230.2 532.3,244.2 518.3,244.2 521.41,241.09 490.5,210.6"/></g>
<polygon filter="url(#glow)" fill="#dc5f2c" points="49.2,137.2 60.7,143.5 61.7,133.9 70.1,139.6 74.7,131.5 81.6,138.9 89.3,133.9 91.7,142.0 102.3,133.1 98.6,145.8 109.6,146.1 100.2,155.0 111.2,159.9 100.2,163.6 104.7,174.6 93.2,171.3 87.7,182.7 80.1,174.4 73.0,183.5 67.0,172.8 54.4,181.1 56.9,170.5 45.4,172.1 50.0,164.3 37.3,158.3 47.7,153.5 45.4,146.1 52.3,145.1"/>
<polygon filter="url(#glow)" fill="#dc5f2c" points="584.2,137.7 595.7,144.0 596.7,134.4 605.1,140.1 609.7,132.0 616.6,139.4 624.3,134.4 626.7,142.5 637.3,133.6 633.6,146.3 644.6,146.6 635.2,155.5 646.2,160.4 635.2,164.1 639.7,175.1 628.2,171.8 622.7,183.2 615.1,174.9 608.0,184.0 602.0,173.3 589.4,181.6 591.9,171.0 580.4,172.6 585.0,164.8 572.3,158.8 582.7,154.0 580.4,146.6 587.3,145.6"/>
<polygon filter="url(#glow)" fill="#dc5f2c" points="546.6,245.0 563.4,252.3 564.4,241.2 574.0,248.7 579.3,238.4 586.5,246.9 597.2,241.2 599.9,249.6 615.9,240.3 610.5,255.0 624.3,255.3 611.5,265.6 628.1,272.2 612.3,276.4 616.8,287.2 602.5,285.2 597.2,297.5 588.3,288.8 578.4,299.3 572.3,287.0 556.9,295.6 558.9,283.4 544.7,285.3 550.0,276.4 530.6,269.4 546.5,263.8 543.7,255.3 552.7,254.0"/>
<text x="265.49999999999943" y="75" font-size="13.3" fill="#3f3939" font-weight="normal" stroke="#3f3939" stroke-width="0.35" textLength="54.5" lengthAdjust="spacingAndGlyphs">Cleavage</text>
<text x="364.0" y="76" font-size="13.3" fill="#3f3939" font-weight="normal" stroke="#3f3939" stroke-width="0.35" textLength="60.0" lengthAdjust="spacingAndGlyphs">Religation</text>
<text x="295.9999999999997" y="118" font-size="13" fill="#3f3939" font-weight="normal" stroke="#3f3939" stroke-width="0.35" textLength="40.5" lengthAdjust="spacingAndGlyphs">Topo II</text>
<text x="331.5" y="188" font-size="13" fill="#3f3939" font-weight="normal" stroke="#3f3939" stroke-width="0.35" textLength="40.5" lengthAdjust="spacingAndGlyphs">Topo II</text>
<text x="282.00000000000057" y="223.2" font-size="13.5" fill="#3f3939" font-weight="normal" stroke="#3f3939" stroke-width="0.35" textLength="110.0" lengthAdjust="spacingAndGlyphs">Cleavage Complex</text>
<text x="35.0" y="115.7" font-size="13" fill="#d6653a" font-weight="normal" stroke="#d6653a" stroke-width="0.2" textLength="86.0" lengthAdjust="spacingAndGlyphs">Mitotic Failure</text>
<text x="583.9999999999994" y="115.7" font-size="13" fill="#d6653a" font-weight="normal" stroke="#d6653a" stroke-width="0.2" textLength="60.5" lengthAdjust="spacingAndGlyphs">Apoptosis</text>
<text x="160.5" y="128.0" font-size="9.4" fill="#3f3939" font-weight="normal" stroke="#3f3939" stroke-width="0.35" textLength="55.0" lengthAdjust="spacingAndGlyphs">Decreasing</text>
<text x="154.0" y="140.3" font-size="9.4" fill="#3f3939" font-weight="normal" stroke="#3f3939" stroke-width="0.35" textLength="67.0" lengthAdjust="spacingAndGlyphs">Concentration</text>
<text x="465.5" y="128.0" font-size="9.4" fill="#3f3939" font-weight="normal" stroke="#3f3939" stroke-width="0.35" textLength="50.5" lengthAdjust="spacingAndGlyphs">Increasing</text>
<text x="457.0" y="140.3" font-size="9.4" fill="#3f3939" font-weight="normal" stroke="#3f3939" stroke-width="0.35" textLength="67.5" lengthAdjust="spacingAndGlyphs">Concentration</text>
<text x="452.0" y="184.4" font-size="9.5" fill="#3f3939" font-weight="normal" stroke="#3f3939" stroke-width="0.35" textLength="83.0" lengthAdjust="spacingAndGlyphs">Anticancer Drugs</text>
<text x="452.5" y="195.5" font-size="9.5" fill="#3f3939" font-weight="normal" stroke="#3f3939" stroke-width="0.35" textLength="81.0" lengthAdjust="spacingAndGlyphs">Natural Products</text>
<text x="61.89999999999996" y="154.8" font-size="11" fill="#fbe9df" font-weight="normal" stroke="#fbe9df" stroke-width="0.3" textLength="24.9" lengthAdjust="spacingAndGlyphs">CELL</text>
<text x="57.89999999999996" y="168.3" font-size="11" fill="#fbe9df" font-weight="normal" stroke="#fbe9df" stroke-width="0.3" textLength="35.2" lengthAdjust="spacingAndGlyphs">DEATH</text>
<text x="597.4999999999989" y="154.9" font-size="11" fill="#fbe9df" font-weight="normal" stroke="#fbe9df" stroke-width="0.3" textLength="25.6" lengthAdjust="spacingAndGlyphs">CELL</text>
<text x="592.2999999999994" y="168.4" font-size="11" fill="#fbe9df" font-weight="normal" stroke="#fbe9df" stroke-width="0.3" textLength="35.7" lengthAdjust="spacingAndGlyphs">DEATH</text>
<text x="567.5" y="259" font-size="10" fill="#fbe9df" font-weight="normal" stroke="#fbe9df" stroke-width="0.3" textLength="21.5" lengthAdjust="spacingAndGlyphs">DNA</text>
<text x="544.0" y="270.6" font-size="10" fill="#fbe9df" font-weight="normal" stroke="#fbe9df" stroke-width="0.3" textLength="69.0" lengthAdjust="spacingAndGlyphs">Translocations</text>
<text x="559.0" y="283.5" font-size="10" fill="#fbe9df" font-weight="normal" stroke="#fbe9df" stroke-width="0.3" textLength="39.3" lengthAdjust="spacingAndGlyphs">CANCER</text>
<text x="33.50000000000007" y="304.6" font-size="44.6" fill="#dc5f2c" font-weight="normal" stroke="#dc5f2c" stroke-width="1.6" textLength="29.0" lengthAdjust="spacingAndGlyphs">D</text>
<text x="66.00000000000014" y="304.6" font-size="44.6" fill="#dc5f2c" font-weight="normal" stroke="#dc5f2c" stroke-width="1.6" textLength="20.5" lengthAdjust="spacingAndGlyphs">a</text>
<text x="91.00000000000014" y="304.6" font-size="44.6" fill="#dc5f2c" font-weight="normal" stroke="#dc5f2c" stroke-width="1.6" textLength="25.5" lengthAdjust="spacingAndGlyphs">u</text>
<text x="117.5" y="304.6" font-size="44.6" fill="#dc5f2c" font-weight="normal" stroke="#dc5f2c" stroke-width="1.6" textLength="27.5" lengthAdjust="spacingAndGlyphs">n</text>
<text x="146.49999999999986" y="304.6" font-size="44.6" fill="#dc5f2c" font-weight="normal" stroke="#dc5f2c" stroke-width="1.6" textLength="24.5" lengthAdjust="spacingAndGlyphs">o</text>
<text x="173.99999999999972" y="304.6" font-size="44.6" fill="#dc5f2c" font-weight="normal" stroke="#dc5f2c" stroke-width="1.6" textLength="13.5" lengthAdjust="spacingAndGlyphs">r</text>
<text x="189.50000000000014" y="304.6" font-size="44.6" fill="#dc5f2c" font-weight="normal" stroke="#dc5f2c" stroke-width="1.6" textLength="26.5" lengthAdjust="spacingAndGlyphs">u</text>
<text x="216.50000000000014" y="304.6" font-size="44.6" fill="#dc5f2c" font-weight="normal" stroke="#dc5f2c" stroke-width="1.6" textLength="24.0" lengthAdjust="spacingAndGlyphs">b</text>
<text x="242.50000000000028" y="304.6" font-size="44.6" fill="#dc5f2c" font-weight="normal" stroke="#dc5f2c" stroke-width="1.6" textLength="11.0" lengthAdjust="spacingAndGlyphs">i</text>
<text x="256.4999999999997" y="304.6" font-size="44.6" fill="#dc5f2c" font-weight="normal" stroke="#dc5f2c" stroke-width="1.6" textLength="21.0" lengthAdjust="spacingAndGlyphs">c</text>
<text x="280.0" y="304.6" font-size="44.6" fill="#dc5f2c" font-weight="normal" stroke="#dc5f2c" stroke-width="1.6" textLength="10.0" lengthAdjust="spacingAndGlyphs">i</text>
<text x="292.0" y="304.6" font-size="44.6" fill="#dc5f2c" font-weight="normal" stroke="#dc5f2c" stroke-width="1.6" textLength="25.5" lengthAdjust="spacingAndGlyphs">n</text>
<text x="32.499999999999964" y="365.2" font-size="19.8" fill="#c25a33" font-weight="normal" stroke="#c25a33" stroke-width="0.2" textLength="14.0" lengthAdjust="spacingAndGlyphs">is</text>
<text x="52.499999999999964" y="365.2" font-size="19.8" fill="#c25a33" font-weight="normal" stroke="#c25a33" stroke-width="0.2" textLength="9.0" lengthAdjust="spacingAndGlyphs">a</text>
<text x="68.49999999999986" y="365.2" font-size="19.8" fill="#c25a33" font-weight="normal" stroke="#c25a33" stroke-width="0.2" textLength="132.0" lengthAdjust="spacingAndGlyphs">Topoisomerase</text>
<text x="203.99999999999986" y="365.2" font-size="19.8" fill="#c25a33" font-weight="normal" stroke="#c25a33" stroke-width="0.2" textLength="9.5" lengthAdjust="spacingAndGlyphs">II</text>
<text x="218.99999999999972" y="365.2" font-size="19.8" fill="#c25a33" font-weight="normal" stroke="#c25a33" stroke-width="0.2" textLength="70.5" lengthAdjust="spacingAndGlyphs">Inhibitor</text>
<text x="296.99999999999943" y="365.2" font-size="19.8" fill="#c25a33" font-weight="normal" stroke="#c25a33" stroke-width="0.2" textLength="34.5" lengthAdjust="spacingAndGlyphs">with</text>
<text x="337.49999999999943" y="365.2" font-size="19.8" fill="#c25a33" font-weight="normal" stroke="#c25a33" stroke-width="0.2" textLength="53.0" lengthAdjust="spacingAndGlyphs">potent</text>
<text x="394.99999999999943" y="365.2" font-size="19.8" fill="#c25a33" font-weight="normal" stroke="#c25a33" stroke-width="0.2" textLength="123.5" lengthAdjust="spacingAndGlyphs">Antineoplastic</text>
<text x="525.0000000000011" y="365.2" font-size="19.8" fill="#c25a33" font-weight="normal" stroke="#c25a33" stroke-width="0.2" textLength="79.0" lengthAdjust="spacingAndGlyphs">Activities</text>
</svg>
</body></html>
